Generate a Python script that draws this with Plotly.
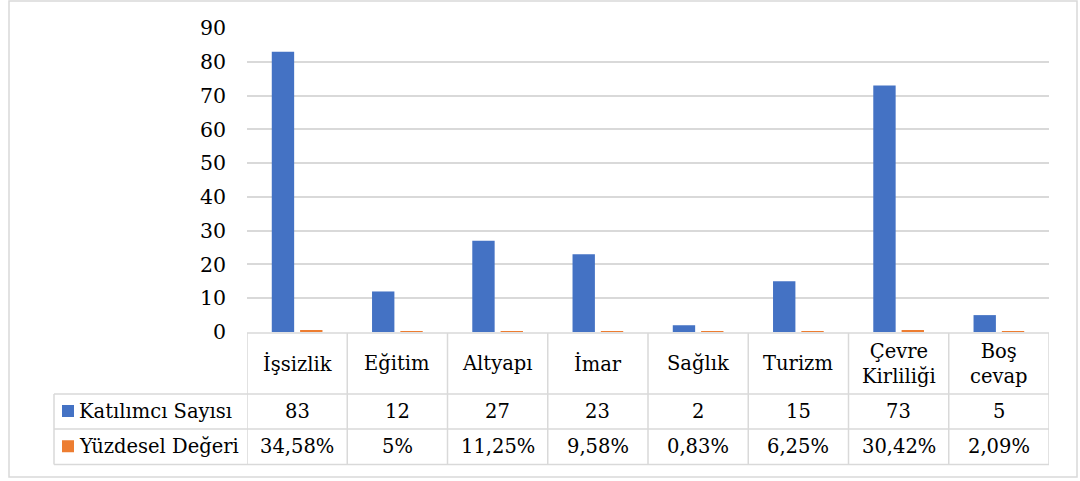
import plotly.graph_objects as go

# Survey: main problems of the district
categories = ["İşsizlik", "Eğitim", "Altyapı", "İmar", "Sağlık", "Turizm",
              "Çevre Kirliliği", "Boş cevap"]
category_labels = ["İşsizlik", "Eğitim", "Altyapı", "İmar", "Sağlık", "Turizm",
                   "Çevre<br>Kirliliği", "Boş<br>cevap"]
participants = [83, 12, 27, 23, 2, 15, 73, 5]
percent_values = [34.58, 5, 11.25, 9.58, 0.83, 6.25, 30.42, 2.09]
percent_labels = ["34,58%", "5%", "11,25%", "9,58%", "0,83%", "6,25%", "30,42%", "2,09%"]
series_names = ["Katılımcı Sayısı", "Yüzdesel Değeri"]
y_ticks = [0, 10, 20, 30, 40, 50, 60, 70, 80, 90]

BLUE = "#4472C4"
ORANGE = "#ED7D31"
GRID = "#d9d9d9"
FONT = "DejaVu Serif"
FS = 19.5

W, H = 1080, 481
L, R, T, B = 247, 31, 28, 149
PW, PH = W - L - R, H - T - B


def px(x):
    return (x - L) / PW


def py(y):
    return (H - B - y) / PH


fig = go.Figure()
fig.add_trace(go.Bar(x=categories, y=participants, name=series_names[0],
                     marker=dict(color=BLUE, line=dict(width=0))))
# percentages plotted as fractions on the same axis, as in the source workbook
fig.add_trace(go.Bar(x=categories, y=[v / 100 for v in percent_values], name=series_names[1],
                     marker=dict(color=ORANGE, line=dict(width=0))))

shapes = []
annotations = []
line = dict(color=GRID, width=1.5)

# chart-area border
shapes.append(dict(type="rect", xref="paper", yref="paper",
                   x0=px(9), x1=px(1077), y0=py(477), y1=py(1),
                   line=dict(color=GRID, width=1.5), layer="below"))

# data table grid
y_top, y_r1, y_r2, y_bot = 333, 394, 429, 464.5
x_head = 54
n = len(categories)
shapes.append(dict(type="line", xref="x", yref="paper",
                   x0=-0.5, x1=n - 0.5, y0=py(y_top), y1=py(y_top), line=line))
for yy in (y_r1, y_r2, y_bot):
    shapes.append(dict(type="line", xref="paper", yref="paper",
                       x0=px(x_head), x1=1, y0=py(yy), y1=py(yy), line=line))
for i in range(n + 1):
    shapes.append(dict(type="line", xref="x", yref="paper",
                       x0=i - 0.5, x1=i - 0.5, y0=py(y_top), y1=py(y_bot), line=line))
shapes.append(dict(type="line", xref="paper", yref="paper",
                   x0=px(x_head), x1=px(x_head), y0=py(y_r1), y1=py(y_bot), line=line))


def cell_text(x, xref, y, text, anchor="center"):
    annotations.append(dict(x=x, xref=xref, y=py(y), yref="paper", text=text,
                            showarrow=False, xanchor=anchor, yanchor="middle",
                            font=dict(family=FONT, size=FS, color="#000")))


# table cell texts
for i, cat in enumerate(categories):
    cell_text(cat, "x", (y_top + y_r1) / 2, category_labels[i])
    cell_text(cat, "x", (y_r1 + y_r2) / 2, str(participants[i]))
    cell_text(cat, "x", (y_r2 + y_bot) / 2, percent_labels[i])

# row headers with legend keys
for name, color, (ya, yb) in [(series_names[0], BLUE, (y_r1, y_r2)),
                              (series_names[1], ORANGE, (y_r2, y_bot))]:
    yc = (ya + yb) / 2
    shapes.append(dict(type="rect", xref="paper", yref="paper",
                       x0=px(62), x1=px(74), y0=py(yc + 5.5), y1=py(yc - 6.5),
                       fillcolor=color, line=dict(width=0)))
    cell_text(px(77), "paper", yc, name, anchor="left")

fig.update_layout(
    width=W, height=H,
    margin=dict(l=L, r=R, t=T, b=B, pad=0),
    paper_bgcolor="white", plot_bgcolor="white",
    barmode="group", bargap=0.435, bargroupgap=0.21,
    showlegend=False,
    font=dict(family=FONT),
    shapes=shapes, annotations=annotations,
    xaxis=dict(showticklabels=False, showgrid=False, zeroline=False, showline=False,
               ticks="", range=[-0.5, n - 0.5]),
    yaxis=dict(range=[0, 90], tickvals=y_ticks, showgrid=True, gridcolor=GRID,
               gridwidth=1.5, zeroline=False, showline=False, ticks="",
               ticklabelstandoff=20,
               tickfont=dict(family=FONT, size=FS + 1, color="#000")),
)

fig.write_html("out.html")
